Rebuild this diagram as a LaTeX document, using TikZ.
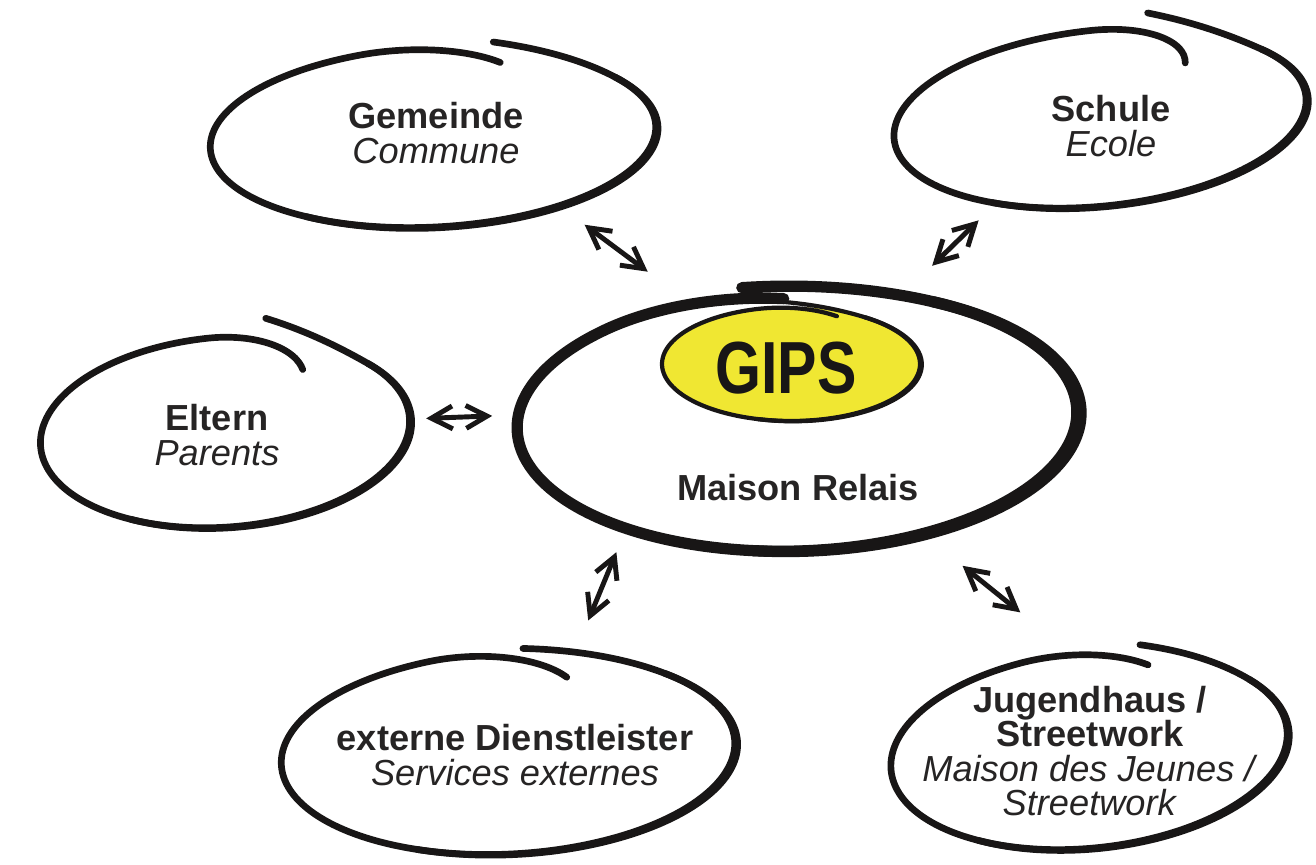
\documentclass[tikz,border=0pt]{standalone}
\usepackage{fontspec}
\setmainfont{Liberation Sans}
\newfontfamily\gipsfont[FakeStretch=0.8]{Liberation Sans}
\usetikzlibrary{shapes.geometric, arrows.meta, positioning}
\setlength{\lineskiplimit}{-10pt}

\definecolor{ink}{RGB}{24,22,22}
\definecolor{textgrey}{RGB}{38,36,36}
\definecolor{gipsyellow}{RGB}{240,231,50}

% hand drawn ring round a node: #1 node, #2 style, #3 rx, #4 ry, #5 tilt,
% #6 start angle, #7 sweep, #8 lead-in, #9 hook
\newcommand\ring[9]{%
  \begin{scope}[shift={(#1.center)}, rotate=#5]
    \draw[#2] plot[domain=0:#7, samples=180, smooth, variable=\u]
      ({#3*rf(\u,#8,#9,#7)*cos(\u-#6)}, {#4*rf(\u,#8,#9,#7)*sin(\u-#6)});
    \draw[#2] plot[domain=40:200, samples=60, smooth, variable=\u]
      ({(1+0.016*sin(1.125*(\u-40)))*#3*cos(\u-#6)}, {(1+0.016*sin(1.125*(\u-40)))*#4*sin(\u-#6)});
  \end{scope}}

\begin{document}
\begin{tikzpicture}[x=0.01cm, y=-0.01cm,
        declare function={lead(\u)=max(0,1-\u/40);
          rf(\u,\ld,\hk,\sw)=1+\ld*lead(\u)*lead(\u)-\hk*max(0,(\u-\sw+40)/40)*max(0,(\u-\sw+40)/40);},
        area/.style    = {ellipse, draw=none, inner sep=0pt},
        tag/.style     = {text=textgrey, align=center, inner sep=0pt,
                          font=\fontsize{10.3}{9.8}\selectfont},
        ring/.style    = {draw=ink, line width=1.9pt, line cap=round, line join=round},
        bigring/.style = {ring, line width=3.2pt},
        gipsring/.style= {ring, line width=1.2pt},
        link/.style    = {<->, draw=ink, line width=1.4pt},
        >={Straight Barb[length=6pt, width=6.5pt]}]

    \useasboundingbox (0,0) rectangle (1316,864);

    % the areas round the Maison Relais
    \node[area, minimum width=4.46cm, minimum height=1.80cm] (gem)    at (433,137) {};
    \node[area, minimum width=4.14cm, minimum height=1.76cm] (schule) at (1100,118) {};
    \node[area, minimum width=3.74cm, minimum height=1.90cm] (eltern) at (225,432) {};
    \node[area, minimum width=5.64cm, minimum height=2.64cm] (relais) at (797,420) {};
    \node[area, minimum width=4.54cm, minimum height=2.02cm] (ext)    at (508,753) {};
    \node[area, minimum width=4.00cm, minimum height=1.98cm] (jugend) at (1089,750) {};
    \node[area, fill=gipsyellow, minimum width=2.58cm, minimum height=1.14cm] (gips) at (791,364) {};

    % texts
    \node[tag] (gemT)    at (436,133)  {\textbf{Gemeinde}\\\textit{Commune}};
    \node[tag] (schuleT) at (1111,126) {\textbf{Schule}\\\textit{Ecole}};
    \node[tag] (elternT) at (217,435)  {\textbf{Eltern}\\\textit{Parents}};
    \node[tag] (relaisT) at (798,488)  {\textbf{Maison Relais}};
    \node[tag] (extT)    at (515,755)  {\textbf{externe Dienstleister}\\\textit{Services externes}};
    \node[tag] (jugendT) at (1090,751) {\textbf{Jugendhaus /}\\\textbf{Streetwork}\\\textit{Maison des Jeunes /}\\\textit{Streetwork}};
    \node[tag, text=ink, font=\gipsfont\bfseries\fontsize{21}{22}\selectfont] (gipsT) at (786,368) {GIPS};

    % the rings
    \ring{gem}{ring}{223}{90}{3}{74}{366}{0.06}{0.15}
    \ring{schule}{ring}{207}{88}{6}{76}{386}{0.165}{0.32}
    \ring{eltern}{ring}{185}{95}{4.5}{77}{384}{0.19}{0.26}
    \ring{relais}{bigring}{280}{131}{2}{100}{368}{0.04}{0.07}
    \ring{ext}{ring}{227}{101}{3}{85}{376}{0.03}{0.23}
    \ring{jugend}{ring}{199}{98}{6}{73}{366}{0.06}{0.13}
    \ring{gips}{gipsring}{129}{57}{0}{95}{388}{0.10}{0.09}

    % links to the Maison Relais
    \draw[link, shorten <=6.9pt, shorten >=12.7pt] (gem.-29) -- (relais.133);
    \draw[link, shorten <=9.7pt, shorten >=12.5pt] (schule.-141) -- (relais.50);
    \draw[link, shorten <=4.3pt, shorten >=6.3pt] (eltern.4.5) -- (relais.179.5);
    \draw[link, shorten <=10.8pt, shorten >=8pt] (ext.56) -- (relais.-148);
    \draw[link, shorten <=12.7pt, shorten >=17.4pt] (relais.-42.5) -- (jugend.102);

\end{tikzpicture}
\end{document}
